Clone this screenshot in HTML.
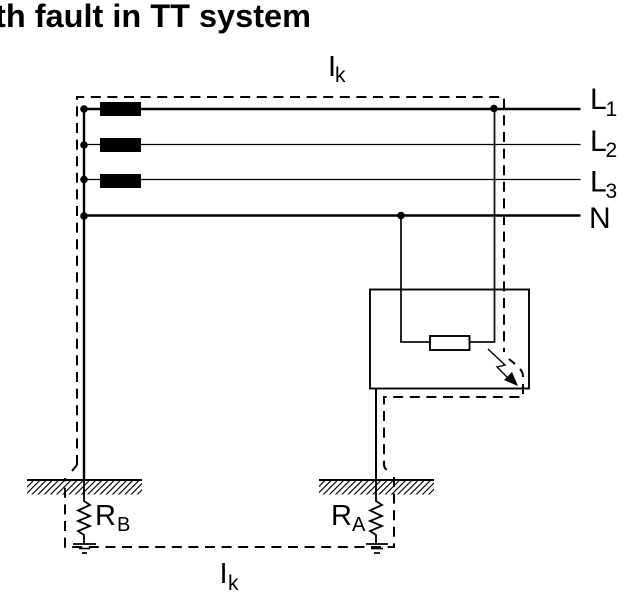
<!DOCTYPE html>
<html><head><meta charset="utf-8"><style>
html,body{margin:0;padding:0;background:#fff;width:642px;height:598px;overflow:hidden}
svg{display:block}
text{font-family:"Liberation Sans",sans-serif;fill:#000}
</style></head><body>
<svg width="642" height="598" viewBox="0 0 642 598" xmlns="http://www.w3.org/2000/svg">
<defs>
<pattern id="h" width="6.2" height="14" patternUnits="userSpaceOnUse" patternTransform="translate(27 480) skewX(-45)">
<rect x="0" y="0" width="1.6" height="14" fill="#000"/>
</pattern>
</defs>
<text x="311" y="27" text-anchor="end" font-size="32.5" font-weight="700">Earth fault in TT system</text>

<g fill="none" stroke="#000" stroke-width="2.4">
<path d="M84 109H580.5"/><path d="M84 215.5H580.5"/><path d="M84 109V480"/>
</g>
<g fill="none" stroke="#000" stroke-width="1.3">
<path d="M84 144.5H580.5"/><path d="M84 179.5H580.5"/>
</g>
<g fill="none" stroke="#111" stroke-width="1.8">
<path d="M494.5 109V342H469.5"/><path d="M401 215.5V342H430"/>
</g>
<g fill="#000">
<rect x="100" y="102" width="41" height="14"/><rect x="100" y="138" width="41" height="14"/><rect x="100" y="174" width="41" height="14"/>
<circle cx="84" cy="109" r="3.8"/><circle cx="84" cy="145" r="3.8"/><circle cx="84" cy="179.5" r="3.8"/><circle cx="84" cy="216" r="3.8"/>
<circle cx="494" cy="108.5" r="3.8"/><circle cx="401" cy="215.5" r="3.8"/>
</g>

<rect x="370" y="289.5" width="159" height="99" fill="none" stroke="#000" stroke-width="1.9"/>
<rect x="430" y="336" width="39.5" height="14" fill="#fff" stroke="#000" stroke-width="1.9"/>
<path d="M488 349L505 365L497 367L509 379" fill="none" stroke="#000" stroke-width="1.4"/>
<path d="M518 386L504 380L512 372Z" fill="#000"/>

<g fill="none" stroke="#000" stroke-width="2" stroke-dasharray="10 6.6">
<path d="M77 465V97H504V352"/>
<path d="M509 359L515 364"/>
<path d="M520 369Q523 372 523 377" stroke-dasharray="none"/>
<path d="M523 384V397H384V465Q384 468 387 470"/>
<path d="M394 477V547H65V478"/>
<path d="M72 471L77 465" stroke-dasharray="none"/>
</g>

<rect x="27" y="481" width="115" height="13.5" fill="url(#h)"/>
<rect x="319" y="481" width="115" height="13.5" fill="url(#h)"/>
<g fill="none" stroke="#000" stroke-width="2">
<path d="M27 480H142"/><path d="M319 480H434"/>
<path d="M376 389V480"/>
</g>
<g fill="none" stroke="#000" stroke-width="1.8">
<path d="M84 480V501L90 505L78 510.5L90 516L78 521L90 526L78 531L84 535V544"/>
<path d="M376 480V501L382 505L370 510.5L382 516L370 521L382 526L370 531L376 535V544"/>
</g>
<g stroke="#000" stroke-width="1.7">
<path d="M73 544H96"/><path d="M79 548.5H90"/><path d="M82 553H87"/>
<path d="M366 544H388"/><path d="M371 548.5H383"/><path d="M374 553H380"/>
</g>

<text x="328" y="76" font-size="29">I</text><text x="335" y="82" font-size="21">k</text>
<text x="219.5" y="583" font-size="29">I</text><text x="228" y="590" font-size="21">k</text>
<text x="590" y="109" font-size="30">L</text><text x="605.5" y="116" font-size="21">1</text>
<text x="590" y="151" font-size="30">L</text><text x="605.5" y="157" font-size="21">2</text>
<text x="590" y="191.5" font-size="30">L</text><text x="605.5" y="198" font-size="21">3</text>
<text x="589" y="228" font-size="30">N</text>
<text x="95" y="525" font-size="29">R</text><text x="117" y="531" font-size="20">B</text>
<text x="331" y="525" font-size="29">R</text><text x="352" y="531" font-size="20">A</text>
</svg>
</body></html>
